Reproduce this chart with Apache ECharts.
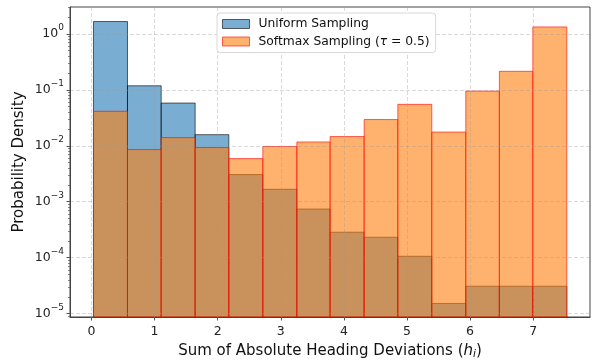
<!DOCTYPE html>
<html><head><meta charset="utf-8">
<script src="https://cdn.jsdelivr.net/npm/echarts@6/dist/echarts.min.js"></script>
<style>html,body{margin:0;padding:0;background:#fff}#c{width:594px;height:360px}</style>
</head><body><div id="c"></div>
<script>
// ---- data ----
const binEdges = [0.032, 0.571, 1.105, 1.643, 2.177, 2.716, 3.255, 3.782, 4.321, 4.855, 5.393, 5.932, 6.464, 6.994, 7.533];
const uniformDensity = [1.66, 0.118, 0.058, 0.0158, 0.00306, 0.00167, 0.00074, 0.000285, 0.000232, 0.000106, 0.0000152, 0.0000309, 0.0000309, 0.0000309];
const softmaxDensity = [0.0413, 0.00855, 0.014, 0.0093, 0.0059, 0.0097, 0.0117, 0.0146, 0.0294, 0.055, 0.0176, 0.095, 0.214, 1.33];
const seriesNames = ['Uniform Sampling', 'Softmax Sampling (τ = 0.5)'];
const xTicks = [0, 1, 2, 3, 4, 5, 6, 7];
const yTicks = [1e-5, 1e-4, 1e-3, 1e-2, 1e-1, 1];
const X_MIN = -0.34, X_MAX = 7.9;
const Y_MIN = Math.pow(10, -5.06), Y_MAX = Math.pow(10, 0.48);
const yMinorTicks = [];
for (let k = -6; k <= 0; k++) for (let m = 2; m <= 9; m++) {
  const v = m * Math.pow(10, k);
  if (v >= Y_MIN && v <= Y_MAX) yMinorTicks.push(v);
}

const FONT = 'DejaVu Sans';
function toData(vals) {
  return vals.map((v, i) => [binEdges[i], binEdges[i + 1], v]);
}
function makeRender(fill, stroke) {
  return function (params, api) {
    const x0 = api.value(0), x1 = api.value(1), v = api.value(2);
    const pTop = api.coord([x0, v]);
    const pBot = api.coord([x1, Y_MIN]);
    return {
      type: 'rect',
      shape: { x: pTop[0], y: pTop[1], width: pBot[0] - pTop[0], height: pBot[1] - pTop[1] },
      style: { fill: fill, stroke: stroke, lineWidth: 1, opacity: 0.6 }
    };
  };
}
const gridLine = { show: true, lineStyle: { color: 'rgba(150,150,150,0.45)', type: [4, 2], width: 0.8 } };

const chart = echarts.init(document.getElementById('c'), null, { renderer: 'canvas' });
chart.setOption({
  animation: false,
  backgroundColor: '#fff',
  textStyle: { fontFamily: FONT },
  grid: { left: 70, right: 4, top: 7, bottom: 43, containLabel: false, outerBoundsMode: 'none',
    show: true, borderColor: '#444', borderWidth: 1, backgroundColor: 'transparent' },
  legend: {
    orient: 'vertical', left: 217, top: 13, z: 10,
    data: [
      { name: seriesNames[0], itemStyle: { color: 'rgba(31,119,180,0.6)', borderColor: 'rgba(0,0,0,0.6)', borderWidth: 1 } },
      { name: seriesNames[1], itemStyle: { color: 'rgba(255,127,14,0.6)', borderColor: 'rgba(255,0,0,0.6)', borderWidth: 1 } }
    ],
    icon: 'rect', itemWidth: 27, itemHeight: 9, itemGap: 5.5,
    padding: [5, 6, 5, 5],
    backgroundColor: '#fff', borderColor: '#d8d8d8', borderWidth: 1, borderRadius: 3,
    textStyle: { fontFamily: FONT, fontSize: 12.3, color: '#111', padding: [0, 0, 0, 4],
      rich: { i: { fontFamily: FONT, fontStyle: 'italic', fontSize: 12.3, color: '#111' } } },
    formatter: function (name) {
      return name.indexOf('τ') >= 0 ? name.replace('τ', '{i|τ}') : name;
    }
  },
  xAxis: {
    type: 'value', min: X_MIN, max: X_MAX, z: 3,
    name: '{t|Sum of Absolute Heading Deviations (}{h|h}{s|i}{t|)}',
    nameLocation: 'middle', nameGap: 26, nameMoveOverlap: false,
    nameTextStyle: { rich: {
      t: { fontFamily: FONT, fontSize: 15, color: '#111' },
      h: { fontFamily: FONT, fontSize: 15, fontStyle: 'italic', color: '#111' },
      s: { fontFamily: FONT, fontSize: 10.5, fontStyle: 'italic', color: '#111', padding: [6, 0, 0, 0] }
    } },
    axisLine: { show: true, onZero: false, lineStyle: { color: '#444', width: 1 } },
    axisTick: { show: true, length: 3.5, customValues: xTicks, lineStyle: { color: '#555' } },
    axisLabel: { customValues: xTicks, margin: 8, fontFamily: FONT, fontSize: 12.5, color: '#222' },
    splitLine: gridLine
  },
  yAxis: [{
    type: 'log', logBase: 10, min: Y_MIN, max: Y_MAX, z: 3,
    name: 'Probability Density', nameLocation: 'middle', nameGap: 43, nameMoveOverlap: false,
    nameTextStyle: { fontFamily: FONT, fontSize: 15, color: '#111' },
    axisLine: { show: true, onZero: false, lineStyle: { color: '#444', width: 1 } },
    axisTick: { show: true, length: 3.5, customValues: yTicks, lineStyle: { color: '#555' } },
    axisLabel: {
      customValues: yTicks, margin: 6,
      formatter: function (v) {
        const e = Math.round(Math.log10(v));
        return '{b|10}{s|' + (e < 0 ? '\u2212' + (-e) : String(e)) + '}';
      },
      rich: {
        b: { fontFamily: FONT, fontSize: 12.5, color: '#222' },
        s: { fontFamily: FONT, fontSize: 9, color: '#222', padding: [0, 0, 12, 0] }
      }
    },
    splitLine: gridLine
  }, {
    type: 'log', logBase: 10, min: Y_MIN, max: Y_MAX, position: 'left', z: 3,
    axisLine: { show: false, onZero: false },
    axisTick: { show: true, length: 2, customValues: yMinorTicks, lineStyle: { color: '#555', width: 0.7 } },
    axisLabel: { show: false },
    splitLine: { show: false }
  }],
  series: [
    {
      name: seriesNames[0], type: 'custom', z: 2,
      itemStyle: { color: 'rgba(31,119,180,0.6)' },
      encode: { x: [0, 1], y: 2 },
      renderItem: makeRender('#1f77b4', '#000'),
      data: toData(uniformDensity)
    },
    {
      name: seriesNames[1], type: 'custom', z: 2,
      itemStyle: { color: 'rgba(255,127,14,0.6)' },
      encode: { x: [0, 1], y: 2 },
      renderItem: makeRender('#ff7f0e', '#ff0000'),
      data: toData(softmaxDensity)
    }
  ]
});
</script>
</body></html>
